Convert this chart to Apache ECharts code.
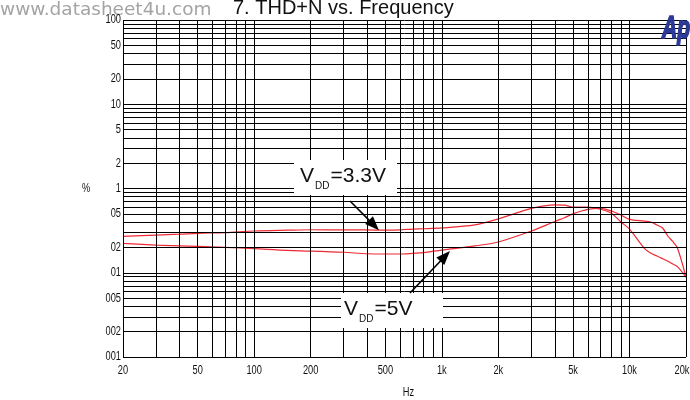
<!DOCTYPE html>
<html>
<head>
<meta charset="utf-8">
<script src="https://cdn.jsdelivr.net/npm/echarts@6/dist/echarts.min.js"></script>
<style>
html, body { margin: 0; padding: 0; background: #fff; }
#chart { width: 690px; height: 400px; }
</style>
</head>
<body>
<div id="chart"></div>
<script>
// THD+N (%) against frequency (Hz) for two supply voltages
const freqHz = [20, 30, 40, 50, 70, 100, 150, 200, 300, 400, 500, 600, 700, 800, 1000, 1500, 2000, 3000, 4000, 4500, 5000, 6000, 7000, 8000, 9000, 10000, 12000, 13000, 14000, 15000, 16000, 17000, 18000, 20000];
const thdVdd33 = [0.27, 0.28, 0.287, 0.294, 0.30, 0.313, 0.32, 0.324, 0.323, 0.322, 0.321, 0.323, 0.33, 0.333, 0.34, 0.37, 0.435, 0.58, 0.64, 0.635, 0.60, 0.60, 0.567, 0.51, 0.40, 0.33, 0.195, 0.17, 0.158, 0.147, 0.137, 0.127, 0.118, 0.089];
const thdVdd5 = [0.223, 0.213, 0.209, 0.206, 0.20, 0.193, 0.184, 0.181, 0.175, 0.168, 0.167, 0.167, 0.170, 0.173, 0.186, 0.208, 0.232, 0.313, 0.406, 0.45, 0.50, 0.564, 0.58, 0.54, 0.484, 0.43, 0.41, 0.40, 0.369, 0.34, 0.273, 0.235, 0.197, 0.089];

// grid lines and the tick labels printed under / beside them
const xGridHz = [20, 30, 40, 50, 60, 70, 80, 90, 100, 200, 300, 400, 500, 600, 700, 800, 900,
  1000, 2000, 3000, 4000, 5000, 6000, 7000, 8000, 9000, 10000, 20000];
const xTickValues = [20, 50, 100, 200, 500, 1000, 2000, 5000, 10000, 20000];
const xTickText = ['20', '50', '100', '200', '500', '1k', '2k', '5k', '10k', '20k'];
const yGridPct = [0.01, 0.02, 0.03, 0.04, 0.05, 0.06, 0.07, 0.08, 0.09,
  0.1, 0.2, 0.3, 0.4, 0.5, 0.6, 0.7, 0.8, 0.9,
  1, 2, 3, 4, 5, 6, 7, 8, 9,
  10, 20, 30, 40, 50, 60, 70, 80, 90, 100];
const yTickValues = [0.01, 0.02, 0.05, 0.1, 0.2, 0.5, 1, 2, 5, 10, 20, 50, 100];
const yTickText = ['001', '002', '005', '01', '02', '05', '1', '2', '5', '10', '20', '50', '100'];

// where the two callout arrows point (Hz, %)
const arrowTip33 = [462, 0.32];
const arrowTip5 = [1105, 0.181];

const mainFont = '"Liberation Sans", Arial, Helvetica, sans-serif';
const curveColor = '#ee2a35';

const chart = echarts.init(document.getElementById('chart'), null, { renderer: 'canvas' });

const option = {
  animation: false,
  backgroundColor: '#fff',
  title: {
    text: '7. THD+N vs. Frequency',
    left: 228,
    top: -7,
    textStyle: { fontFamily: mainFont, fontSize: 20, fontWeight: 'normal', color: '#111' }
  },
  grid: { left: 123, right: 4, top: 20, bottom: 43 },
  xAxis: {
    type: 'log', logBase: 10, min: 20, max: 20000,
    axisLine: { show: false }, axisTick: { show: false },
    axisLabel: { show: false }, splitLine: { show: false }
  },
  yAxis: {
    type: 'log', logBase: 10, min: 0.01, max: 100,
    axisLine: { show: false }, axisTick: { show: false },
    axisLabel: { show: false }, splitLine: { show: false }
  },
  series: [
    {
      // frame and grid, drawn through the axes' own scales
      name: 'grid', type: 'line', data: [[20, 0.01]], showSymbol: false, silent: true, z: 1,
      lineStyle: { opacity: 0 },
      markLine: {
        silent: true, symbol: ['none', 'none'], animation: false,
        lineStyle: { color: '#000', width: 1, type: 'solid' },
        label: { show: false },
        emphasis: { disabled: true },
        data: xGridHz.map(v => ({ xAxis: v })).concat(yGridPct.map(v => ({ yAxis: v })))
      }
    },
    {
      name: 'VDD=3.3V', type: 'line', z: 3,
      data: freqHz.map((f, i) => [f, thdVdd33[i]]),
      showSymbol: false, smooth: 0.3,
      lineStyle: { color: curveColor, width: 1.2 }
    },
    {
      name: 'VDD=5V', type: 'line', z: 3,
      data: freqHz.map((f, i) => [f, thdVdd5[i]]),
      showSymbol: false, smooth: 0.3,
      lineStyle: { color: curveColor, width: 1.2 }
    }
  ]
};
chart.setOption(option);

const toPx = d => chart.convertToPixel({ xAxisIndex: 0, yAxisIndex: 0 }, d);

// narrow tick lettering
function tickText(text, x, y, align) {
  return {
    type: 'text', x: x, y: y, scaleX: 0.74, z: 20,
    style: { text: text, fontFamily: mainFont, fontSize: 12.5, fill: '#111', align: align, verticalAlign: 'middle' }
  };
}

// callout: a white box with V_DD text and an arrow to the curve
function callout(box, textX, textY, voltText, tail, tipData) {
  const tip = toPx(tipData);
  const dx = tip[0] - tail[0], dy = tip[1] - tail[1];
  const len = Math.sqrt(dx * dx + dy * dy);
  const ux = dx / len, uy = dy / len;
  const headLen = 14, headHalf = 5.5;
  const bx = tip[0] - ux * headLen, by = tip[1] - uy * headLen;
  return [
    { type: 'rect', shape: box, style: { fill: '#fff' }, z: 10 },
    {
      type: 'text', x: textX, y: textY, z: 11,
      style: {
        text: '{v|V}{s|DD}{v|' + voltText + '}',
        rich: {
          v: { fontFamily: mainFont, fontSize: 21, fill: '#111', verticalAlign: 'bottom' },
          s: { fontFamily: mainFont, fontSize: 10, fill: '#111', verticalAlign: 'bottom', padding: [0, 1, -4, 1] }
        }
      }
    },
    {
      type: 'line', z: 12,
      shape: { x1: tail[0], y1: tail[1], x2: bx + ux * 2, y2: by + uy * 2 },
      style: { stroke: '#000', lineWidth: 1.6 }
    },
    {
      type: 'polygon', z: 12,
      shape: { points: [[tip[0], tip[1]], [bx - uy * headHalf, by + ux * headHalf], [bx + uy * headHalf, by - ux * headHalf]] },
      style: { fill: '#000' }
    }
  ];
}

const bottomY = toPx([20, 0.01])[1];
const leftX = toPx([20, 0.01])[0];
const rightX = toPx([20000, 0.01])[0];
const midY = toPx([20, 1])[1];

const ticks = [];
xTickValues.forEach((v, i) => {
  const px = toPx([v, 0.01])[0];
  ticks.push(tickText(xTickText[i], Math.min(px, rightX - 4), bottomY + 14, 'center'));
});
yTickValues.forEach((v, i) => {
  const py = toPx([20, v])[1];
  ticks.push(tickText(yTickText[i], leftX - 2, py, 'right'));
});
ticks.push(tickText('Hz', (leftX + rightX) / 2 + 4, bottomY + 36, 'center'));
ticks.push(tickText('%', leftX - 37, midY, 'center'));

chart.setOption({
  graphic: [
    {
      type: 'text', x: 0, y: 1, z: 20,
      style: { text: 'www.datasheet4u.com', fontFamily: '"DejaVu Sans", sans-serif', fontSize: 18.5, fill: '#a4a4a4' }
    },
    {
      type: 'text', x: 662, y: 14, scaleX: 0.68, z: 20,
      style: {
        text: 'Ap', fontFamily: mainFont, fontSize: 31, fontWeight: 'bold', fontStyle: 'italic',
        fill: '#2b3a96', stroke: '#2b3a96', lineWidth: 1.6
      }
    }
  ].concat(
    ticks,
    callout({ x: 294, y: 160, width: 103, height: 35 }, 300, 166, '=3.3V', [350, 201], arrowTip33),
    callout({ x: 341, y: 293, width: 102, height: 35 }, 344, 299, '=5V', [410, 293], arrowTip5)
  )
});
</script>
</body>
</html>
